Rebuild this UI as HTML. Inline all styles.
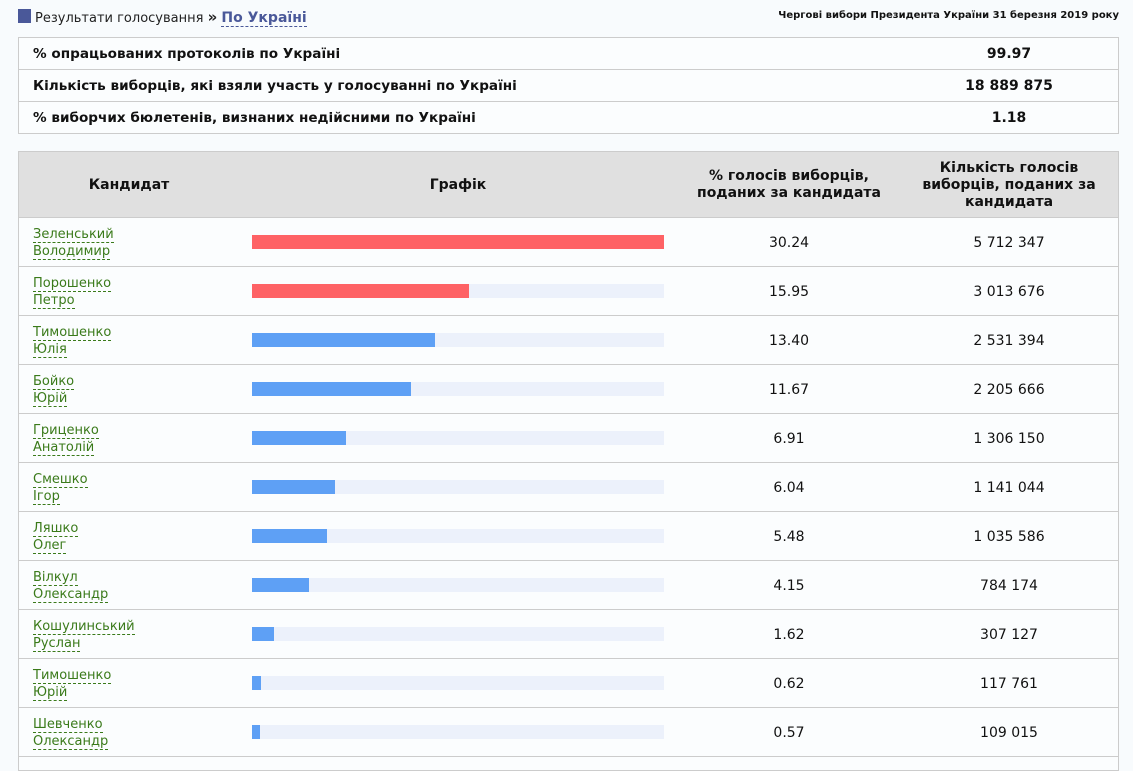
<!DOCTYPE html>
<html><head><meta charset="utf-8"><style>
*{margin:0;padding:0;box-sizing:border-box}
body{width:1133px;height:764px;overflow:hidden;background:#f8fbfd;font-family:"DejaVu Sans","Liberation Sans",sans-serif;color:#111;position:relative}
.a{position:absolute}
.sq{left:18px;top:9px;width:13px;height:14px;background:#4a5899}
.crumb{left:35px;top:8px;font-size:13px;color:#222;white-space:nowrap}
.crumb b{font-weight:bold;font-size:15px}
.crumb span{color:#4a5899;font-weight:bold;border-bottom:1px dashed #4a5899;font-size:14px}
.title{right:14px;top:10px;font-size:10px;font-weight:bold;white-space:nowrap}
.box{left:18px;width:1101px;border:1px solid #ccc;background:#fbfdfe}
.r{position:absolute;left:0;width:1099px;height:32px;border-bottom:1px solid #ccc;font-size:13.6px;font-weight:bold;line-height:32px}
.r .l{position:absolute;left:14px}
.r .v{position:absolute;left:900px;width:180px;text-align:center;font-size:14px}
.hd{position:absolute;left:0;top:0;width:1099px;height:66px;background:#e0e0e0;border-bottom:1px solid #ccc;font-size:14px;font-weight:bold}
.hd div{position:absolute;text-align:center;line-height:17px}
.row{position:absolute;left:0;width:1099px;height:49px;border-bottom:1px solid #ccc}
.nm{position:absolute;left:14px;top:8px;font-size:13px;line-height:17px;color:#3a7a1a}
.nm span{border-bottom:1px dashed #3a7a1a}
.bg{position:absolute;left:233px;top:17px;width:412px;height:14px;background:#ecf1fb}
.bar{position:absolute;left:233px;top:17px;height:14px;background:#5ea0f5}
.red{background:#fe6265}
.p{position:absolute;left:670px;width:200px;text-align:center;top:17px;font-size:14px}
.c{position:absolute;left:890px;width:200px;text-align:center;top:17px;font-size:14px}
</style></head><body>
<div class="a sq"></div>
<div class="a crumb">Результати голосування <b>»</b> <span>По Україні</span></div>
<div class="a title">Чергові вибори Президента України 31 березня 2019 року</div>
<div class="a box" style="top:37px;height:97px">
<div class="r" style="top:0"><span class="l">% опрацьованих протоколів по Україні</span><span class="v">99.97</span></div>
<div class="r" style="top:32px"><span class="l">Кількість виборців, які взяли участь у голосуванні по Україні</span><span class="v">18 889 875</span></div>
<div class="r" style="top:64px;border-bottom:none"><span class="l">% виборчих бюлетенів, визнаних недійсними по Україні</span><span class="v">1.18</span></div>
</div>
<div class="a box" style="top:151px;height:620px">
<div class="hd">
<div style="left:0;width:220px;top:25px">Кандидат</div>
<div style="left:233px;width:412px;top:25px">Графік</div>
<div style="left:660px;width:220px;top:16px">% голосів виборців,<br>поданих за кандидата</div>
<div style="left:890px;width:200px;top:8px">Кількість голосів<br>виборців, поданих за<br>кандидата</div>
</div>
<div class="row" style="top:66px"><div class="nm"><span>Зеленський</span><br><span>Володимир</span></div><div class="bg"></div><div class="bar red" style="width:412px"></div><div class="p">30.24</div><div class="c">5 712 347</div></div>
<div class="row" style="top:115px"><div class="nm"><span>Порошенко</span><br><span>Петро</span></div><div class="bg"></div><div class="bar red" style="width:217px"></div><div class="p">15.95</div><div class="c">3 013 676</div></div>
<div class="row" style="top:164px"><div class="nm"><span>Тимошенко</span><br><span>Юлія</span></div><div class="bg"></div><div class="bar" style="width:183px"></div><div class="p">13.40</div><div class="c">2 531 394</div></div>
<div class="row" style="top:213px"><div class="nm"><span>Бойко</span><br><span>Юрій</span></div><div class="bg"></div><div class="bar" style="width:159px"></div><div class="p">11.67</div><div class="c">2 205 666</div></div>
<div class="row" style="top:262px"><div class="nm"><span>Гриценко</span><br><span>Анатолій</span></div><div class="bg"></div><div class="bar" style="width:94px"></div><div class="p">6.91</div><div class="c">1 306 150</div></div>
<div class="row" style="top:311px"><div class="nm"><span>Смешко</span><br><span>Ігор</span></div><div class="bg"></div><div class="bar" style="width:83px"></div><div class="p">6.04</div><div class="c">1 141 044</div></div>
<div class="row" style="top:360px"><div class="nm"><span>Ляшко</span><br><span>Олег</span></div><div class="bg"></div><div class="bar" style="width:75px"></div><div class="p">5.48</div><div class="c">1 035 586</div></div>
<div class="row" style="top:409px"><div class="nm"><span>Вілкул</span><br><span>Олександр</span></div><div class="bg"></div><div class="bar" style="width:57px"></div><div class="p">4.15</div><div class="c">784 174</div></div>
<div class="row" style="top:458px"><div class="nm"><span>Кошулинський</span><br><span>Руслан</span></div><div class="bg"></div><div class="bar" style="width:22px"></div><div class="p">1.62</div><div class="c">307 127</div></div>
<div class="row" style="top:507px"><div class="nm"><span>Тимошенко</span><br><span>Юрій</span></div><div class="bg"></div><div class="bar" style="width:9px"></div><div class="p">0.62</div><div class="c">117 761</div></div>
<div class="row" style="top:556px"><div class="nm"><span>Шевченко</span><br><span>Олександр</span></div><div class="bg"></div><div class="bar" style="width:8px"></div><div class="p">0.57</div><div class="c">109 015</div></div>
</div>
</body></html>
